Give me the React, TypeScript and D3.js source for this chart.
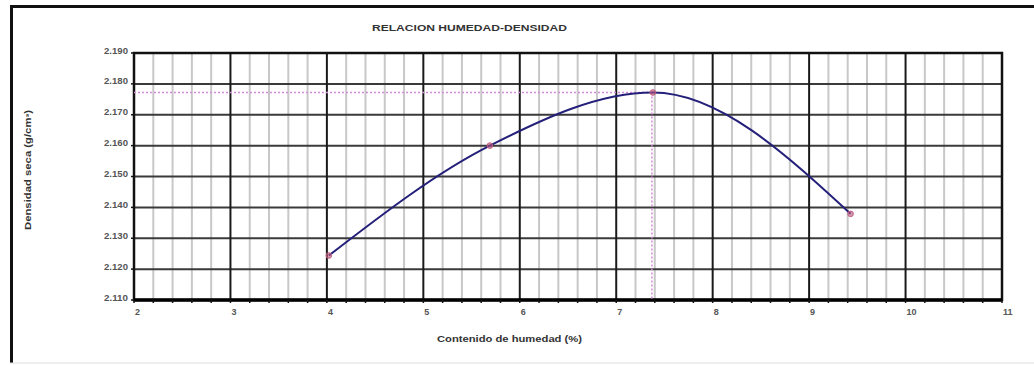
import React from 'react';
import * as d3 from 'd3';

// Ensayo Proctor: humedad (%) vs densidad seca (g/cm3)
const moisture = [4.02, 5.69, 7.38, 9.43];
const density = [2.1244, 2.160, 2.1772, 2.1379];
const optimumMoisture = [7.37];
const maxDensity = [2.1772];

const xTicks = [2, 3, 4, 5, 6, 7, 8, 9, 10, 11];
const yTicks = [2.11, 2.12, 2.13, 2.14, 2.15, 2.16, 2.17, 2.18, 2.19];

const W = 1034;
const H = 365;
const margin = { left: 134, right: 32, top: 53, bottom: 65 };

export default function App() {
  const x = d3.scaleLinear().domain([2, 11]).range([margin.left, W - margin.right]);
  const y = d3.scaleLinear().domain([2.11, 2.19]).range([H - margin.bottom, margin.top]);

  const minorX = d3.range(20, 111, 2).map((v) => v / 10).filter((v) => Math.abs(v - Math.round(v)) > 1e-6);

  const pts: [number, number][] = moisture.map((m, i) => [m, density[i]]);
  const line = d3.line<[number, number]>()
    .x((d) => x(d[0]))
    .y((d) => y(d[1]))
    .curve(d3.curveMonotoneX);

  const x0 = x.range()[0], x1 = x.range()[1];
  const y0 = y.range()[0], y1 = y.range()[1];
  const font = 'Arial, "Liberation Sans", sans-serif';

  return (
    <svg width={W} height={H} style={{ position: 'absolute', left: 0, top: 0, background: '#fff' }}>
      {/* outer frame */}
      <line x1={10} x2={W} y1={6.5} y2={6.5} stroke="#111" strokeWidth={3} />
      <line x1={11.5} x2={11.5} y1={5} y2={H - 2} stroke="#111" strokeWidth={3} />
      <line x1={10} x2={W} y1={363} y2={363} stroke="#ddd" strokeWidth={1} />

      <text x={372} y={31} textLength={195} lengthAdjust="spacingAndGlyphs" fontFamily={font} fontWeight="bold" fontSize={9.5} fill="#333">
        RELACION HUMEDAD-DENSIDAD
      </text>

      {/* minor vertical grid */}
      {minorX.map((v) => (
        <line key={'mx' + v} x1={x(v)} x2={x(v)} y1={y1} y2={y0} stroke="#c8c8c8" strokeWidth={2} />
      ))}
      {/* horizontal grid */}
      {yTicks.map((v) => (
        <line key={'gy' + v} x1={x0} x2={x1} y1={y(v)} y2={y(v)} stroke="#3a3a3a" strokeWidth={2} />
      ))}
      {/* major vertical grid */}
      {xTicks.map((v) => (
        <line key={'gx' + v} x1={x(v)} x2={x(v)} y1={y1} y2={y0} stroke="#1a1a1a" strokeWidth={2} />
      ))}
      {/* plot border */}
      <rect x={x0} y={y1} width={x1 - x0} height={y0 - y1} fill="none" stroke="#111" strokeWidth={2.5} />
      <line x1={x0} x2={x1} y1={y0} y2={y0} stroke="#000" strokeWidth={3.5} />

      {/* small ticks */}
      {minorX.concat(xTicks).map((v) => (
        <line key={'tx' + v} x1={x(v)} x2={x(v)} y1={y0} y2={y0 + 3} stroke="#111" strokeWidth={1.5} />
      ))}
      {yTicks.map((v) => (
        <line key={'ty' + v} x1={x0 - 3} x2={x0} y1={y(v)} y2={y(v)} stroke="#111" strokeWidth={1.5} />
      ))}

      {/* tick labels */}
      {yTicks.map((v) => (
        <text key={'ly' + v} x={x0 - 30} y={y(v) + 0.5} textLength={24} lengthAdjust="spacingAndGlyphs" fontFamily={font} fontWeight="bold" fontSize={8.5} fill="#555">
          {d3.format('.3f')(v)}
        </text>
      ))}
      {xTicks.map((v) => (
        <text key={'lx' + v} x={x(v) + 1} y={y0 + 15} textAnchor="start" fontFamily={font} fontWeight="bold" fontSize={9} fill="#555">
          {v}
        </text>
      ))}

      {/* axis titles */}
      <text x={437} y={342} textLength={145} lengthAdjust="spacingAndGlyphs" fontFamily={font} fontWeight="bold" fontSize={9} fill="#333">
        Contenido  de humedad (%)
      </text>
      <text transform={`translate(31,230) rotate(-90)`} textLength={120} lengthAdjust="spacingAndGlyphs" fontFamily={font} fontWeight="bold" fontSize={8.5} fill="#333">
        Densidad seca (g/cm³)
      </text>

      {/* optimum guide lines */}
      {optimumMoisture.map((m, i) => (
        <g key={'opt' + i}>
          <line x1={x0} x2={x(m)} y1={y(maxDensity[i])} y2={y(maxDensity[i])} stroke="#d58ad8" strokeWidth={1.5} strokeDasharray="2,2" />
          <line x1={x(m)} x2={x(m)} y1={y(maxDensity[i])} y2={y0} stroke="#d58ad8" strokeWidth={1.5} strokeDasharray="2,2" />
        </g>
      ))}

      {/* curve */}
      <path d={line(pts) || ''} fill="none" stroke="#24207a" strokeWidth={2} />
      {pts.map((d, i) => (
        <circle key={'p' + i} cx={x(d[0])} cy={y(d[1])} r={2.8} fill="#b8527a" fillOpacity={0.6} stroke="#c06080" strokeWidth={1} />
      ))}
    </svg>
  );
}
